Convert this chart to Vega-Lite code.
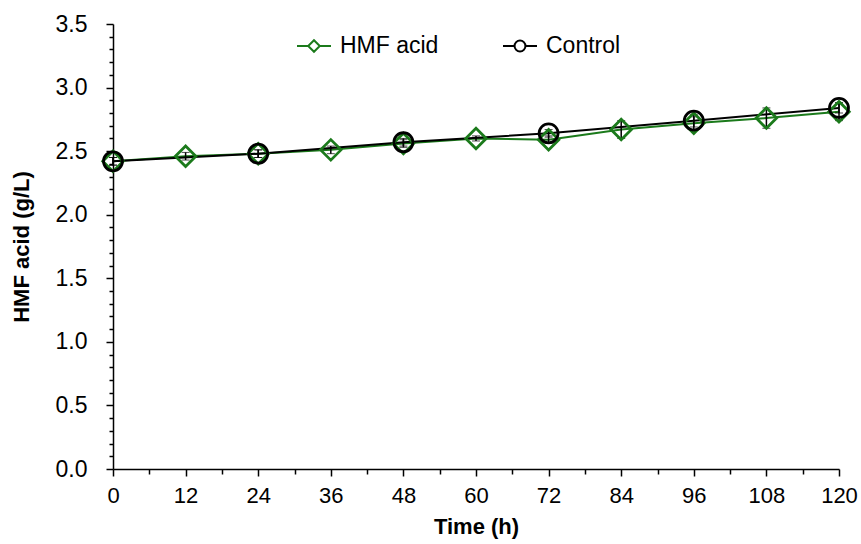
{
  "$schema": "https://vega.github.io/schema/vega-lite/v6.json",
  "width": 726,
  "height": 445,
  "autosize": "none",
  "padding": {"left": 113, "top": 24, "right": 22, "bottom": 75},
  "background": "white",
  "config": {
    "view": {"stroke": null},
    "font": "Liberation Sans",
    "axis": {"grid": false, "domainColor": "black", "tickColor": "black", "labelColor": "black", "titleColor": "black", "labelFont": "Liberation Sans", "titleFont": "Liberation Sans"}
  },
  "data": {
    "values": [
      {"series": "HMF acid", "time": 0, "value": 2.42, "sd": 0.03},
      {"series": "HMF acid", "time": 12, "value": 2.46, "sd": 0.03},
      {"series": "HMF acid", "time": 24, "value": 2.48, "sd": 0.03},
      {"series": "HMF acid", "time": 36, "value": 2.51, "sd": 0.03},
      {"series": "HMF acid", "time": 48, "value": 2.56, "sd": 0.03},
      {"series": "HMF acid", "time": 60, "value": 2.60, "sd": 0.02},
      {"series": "HMF acid", "time": 72, "value": 2.59, "sd": 0.03},
      {"series": "HMF acid", "time": 84, "value": 2.67, "sd": 0.07},
      {"series": "HMF acid", "time": 96, "value": 2.72, "sd": 0.05},
      {"series": "HMF acid", "time": 108, "value": 2.76, "sd": 0.08},
      {"series": "HMF acid", "time": 120, "value": 2.81, "sd": 0.07},
      {"series": "Control", "time": 0, "value": 2.42, "sd": 0.03},
      {"series": "Control", "time": 24, "value": 2.48, "sd": 0.03},
      {"series": "Control", "time": 48, "value": 2.57, "sd": 0.03},
      {"series": "Control", "time": 72, "value": 2.64, "sd": 0.03},
      {"series": "Control", "time": 96, "value": 2.74, "sd": 0.05},
      {"series": "Control", "time": 120, "value": 2.84, "sd": 0.04}
    ]
  },
  "encoding": {
    "x": {
      "field": "time", "type": "quantitative",
      "scale": {"domain": [0, 120], "nice": false, "zero": false},
      "axis": {
        "title": "Time (h)", "titleFontSize": 22, "titleFontWeight": "bold", "titlePadding": 10,
        "values": [0, 6, 12, 18, 24, 30, 36, 42, 48, 54, 60, 66, 72, 78, 84, 90, 96, 102, 108, 114, 120],
        "labelExpr": "datum.value % 12 === 0 ? datum.label : ''",
        "labelOverlap": false, "labelFontSize": 22, "labelPadding": 9, "labelFlush": false,
        "tickSize": {"condition": {"test": "datum.value % 12 === 0", "value": 7}, "value": 5},
        "tickWidth": 1.5, "domainWidth": 1.5
      }
    },
    "y": {
      "field": "value", "type": "quantitative",
      "scale": {"domain": [0, 3.5], "nice": false},
      "axis": {
        "title": "HMF acid (g/L)", "titleFontSize": 22, "titleFontWeight": "bold", "titlePadding": 22,
        "values": [0, 0.1, 0.2, 0.3, 0.4, 0.5, 0.6, 0.7, 0.8, 0.9, 1.0, 1.1, 1.2, 1.3, 1.4, 1.5, 1.6, 1.7, 1.8, 1.9, 2.0, 2.1, 2.2, 2.3, 2.4, 2.5, 2.6, 2.7, 2.8, 2.9, 3.0, 3.1, 3.2, 3.3, 3.4, 3.5],
        "labelExpr": "abs(datum.value * 2 - round(datum.value * 2)) < 0.001 ? format(datum.value, '.1f') : ''",
        "labelOverlap": false, "labelFontSize": 23, "labelPadding": 19,
        "tickSize": {"condition": {"test": "abs(datum.value * 2 - round(datum.value * 2)) < 0.001", "value": 7}, "value": 4},
        "tickWidth": 1.5, "domainWidth": 1.5
      }
    }
  },
  "layer": [
    {
      "mark": {"type": "line", "strokeWidth": 2},
      "encoding": {
        "color": {
          "field": "series", "type": "nominal",
          "scale": {"domain": ["HMF acid", "Control"], "range": ["#1b7a1b", "#000000"]},
          "legend": {
            "title": null, "orient": "none", "direction": "horizontal",
            "legendX": 183, "legendY": 4,
            "labelFontSize": 23, "labelColor": "black", "labelFont": "Liberation Sans",
            "symbolSize": 1156, "labelOffset": 8, "columnPadding": 60,
            "symbolStrokeWidth": 2,
            "encode": {
              "symbols": {
                "update": {
                  "shape": {"signal": "datum.value === 'HMF acid' ? 'M-1,0L-0.34,0M-0.34,0L0,-0.34L0.34,0L0,0.34ZM0.34,0L1,0' : 'M-1,0L-0.32,0A0.32,0.32,0,1,1,0.32,0A0.32,0.32,0,1,1,-0.32,0M0.32,0L1,0'"},
                  "fill": {"value": "transparent"},
                  "strokeWidth": {"value": 2}
                }
              }
            }
          }
        },
        "detail": {"field": "series"}
      }
    },
    {
      "mark": {"type": "errorbar", "ticks": {"size": 8, "color": "black"}, "rule": {"color": "black", "strokeWidth": 1.5}, "color": "black"},
      "encoding": {
        "yError": {"field": "sd"},
        "detail": {"field": "series"}
      }
    },
    {
      "transform": [{"filter": "datum.series === 'HMF acid'"}],
      "mark": {"type": "point", "shape": "diamond", "filled": false, "size": 420, "strokeWidth": 2.8, "color": "#1b7a1b", "opacity": 1}
    },
    {
      "transform": [{"filter": "datum.series === 'Control'"}],
      "mark": {"type": "point", "shape": "circle", "filled": false, "size": 360, "strokeWidth": 2.8, "color": "#000000", "opacity": 1}
    }
  ]
}
